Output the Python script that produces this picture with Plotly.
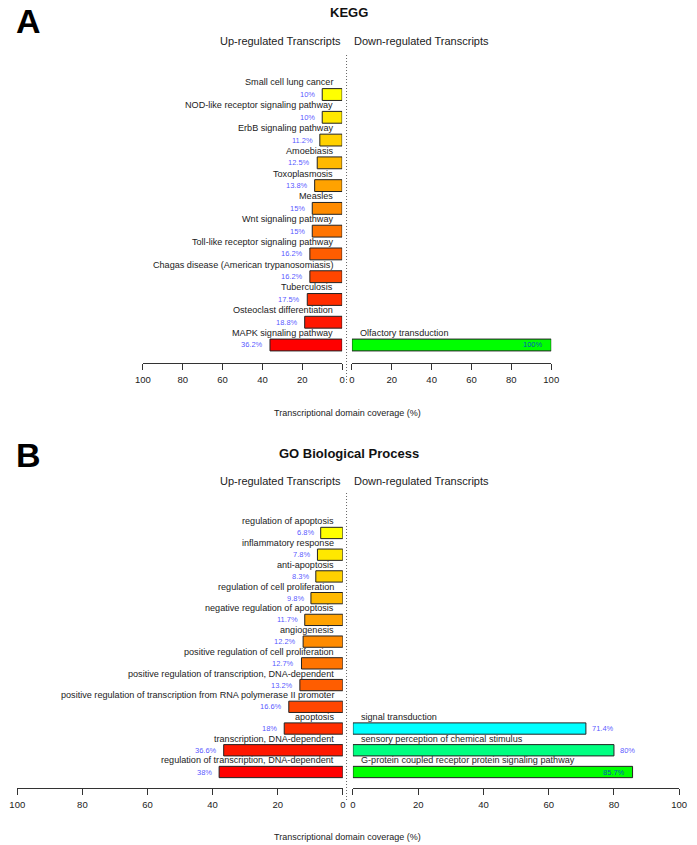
import plotly.graph_objects as go

W, H = 697, 845

# ---------------- data ----------------
kegg_up_terms = [
    "Small cell lung cancer",
    "NOD-like receptor signaling pathway",
    "ErbB signaling pathway",
    "Amoebiasis",
    "Toxoplasmosis",
    "Measles",
    "Wnt signaling pathway",
    "Toll-like receptor signaling pathway",
    "Chagas disease (American trypanosomiasis)",
    "Tuberculosis",
    "Osteoclast differentiation",
    "MAPK signaling pathway",
]
kegg_up_values = [10, 10, 11.2, 12.5, 13.8, 15, 15, 16.2, 16.2, 17.5, 18.8, 36.2]

kegg_down_terms = ["Olfactory transduction"]
kegg_down_values = [100]

go_up_terms = [
    "regulation of apoptosis",
    "inflammatory response",
    "anti-apoptosis",
    "regulation of cell proliferation",
    "negative regulation of apoptosis",
    "angiogenesis",
    "positive regulation of cell proliferation",
    "positive regulation of transcription, DNA-dependent",
    "positive regulation of transcription from RNA polymerase II promoter",
    "apoptosis",
    "transcription, DNA-dependent",
    "regulation of transcription, DNA-dependent",
]
go_up_values = [6.8, 7.8, 8.3, 9.8, 11.7, 12.2, 12.7, 13.2, 16.6, 18, 36.6, 38]

go_down_terms = [
    "signal transduction",
    "sensory perception of chemical stimulus",
    "G-protein coupled receptor protein signaling pathway",
]
go_down_values = [71.4, 80, 85.7]

tick_values = [0, 20, 40, 60, 80, 100]
x_title = "Transcriptional domain coverage (%)"
up_title = "Up-regulated Transcripts"
down_title = "Down-regulated Transcripts"

# ---------------- style helpers ----------------
FONT = "Liberation Sans, Arial, Helvetica, sans-serif"
PCT_COLOR = "rgba(0,0,255,0.7)"
TXT = "#222222"


def ramp(c1, c2, n):
    if n == 1:
        return ["rgb(%d,%d,%d)" % c1]
    out = []
    for i in range(n):
        t = i / (n - 1)
        out.append("rgb(%d,%d,%d)" % tuple(round(a + (b - a) * t) for a, b in zip(c1, c2)))
    return out


def fmt(v):
    return ("%g" % v) + "%"


def px_x(p):
    return p / W


def px_y(p):
    return 1 - p / H


fig = go.Figure()
annotations = []
shapes = []

panels = [
    dict(letter="A", title="KEGG",
         up_terms=kegg_up_terms, up_vals=kegg_up_values,
         dn_terms=kegg_down_terms, dn_vals=kegg_down_values,
         row0=345.0, step=22.77, axis_y=363, xl=(138, 342), xr=(352, 556),
         title_y=12.5, sub_y=40.5, letter_top=0, xtitle_y=413, dot=(55, 383),
         ax=("x", "x2"), yax="y"),
    dict(letter="B", title="GO Biological Process",
         up_terms=go_up_terms, up_vals=go_up_values,
         dn_terms=go_down_terms, dn_vals=go_down_values,
         row0=772.0, step=21.73, axis_y=788, xl=(9.5, 342.7), xr=(353, 687),
         title_y=453, sub_y=481, letter_top=434, xtitle_y=837, dot=(493, 800),
         ax=("x3", "x4"), yax="y2"),
]

layout_axes = {}
for k, p in enumerate(panels):
    n = len(p["up_terms"])
    rows_up = list(range(n))[::-1]
    m = len(p["dn_terms"])
    rows_dn = list(range(m))[::-1]
    up_colors = ramp((255, 0, 0), (255, 255, 0), n)[::-1]
    dn_colors = ramp((0, 255, 0), (0, 255, 255), m)[::-1]

    xa_l, xa_r = p["ax"]
    ya = p["yax"]

    fig.add_trace(go.Bar(
        x=p["up_vals"], y=rows_up, orientation="h", width=0.52,
        marker=dict(color=up_colors, line=dict(color="#222", width=1)),
        xaxis=xa_l, yaxis=ya, showlegend=False, hoverinfo="skip"))
    fig.add_trace(go.Bar(
        x=p["dn_vals"], y=rows_dn, orientation="h", width=0.52,
        marker=dict(color=dn_colors, line=dict(color="#222", width=1)),
        xaxis=xa_r, yaxis=ya, showlegend=False, hoverinfo="skip"))

    # y axis (rows)
    ybot = p["row0"] + p["step"]
    ytop = p["row0"] - 13 * p["step"]
    ykey = "yaxis" if ya == "y" else "yaxis2"
    layout_axes[ykey] = dict(domain=[px_y(ybot), px_y(ytop)], range=[-1, 13],
                             visible=False, fixedrange=True)

    common = dict(anchor="free", position=px_y(p["axis_y"]), showline=True,
                  linecolor="#333", linewidth=1, ticks="outside", ticklen=6,
                  tickcolor="#333", tickwidth=1, tickvals=tick_values,
                  tickfont=dict(family=FONT, size=9.5, color=TXT),
                  showgrid=False, zeroline=False, fixedrange=True,
                  ticklabelstandoff=2)
    kl = "xaxis" if xa_l == "x" else "xaxis" + xa_l[1:]
    kr = "xaxis" + xa_r[1:]
    layout_axes[kl] = dict(domain=[px_x(p["xl"][0]), px_x(p["xl"][1])],
                           range=[100, 0], **common)
    layout_axes[kr] = dict(domain=[px_x(p["xr"][0]), px_x(p["xr"][1])],
                           range=[0, 100], **common)

    # term labels and percentages
    for term, v, r in zip(p["up_terms"], p["up_vals"], rows_up):
        annotations.append(dict(xref=xa_l, yref=ya, x=0, y=r + 0.53, text=term,
                                xanchor="right", yanchor="middle", xshift=-7,
                                showarrow=False,
                                font=dict(family=FONT, size=9.1, color=TXT)))
        annotations.append(dict(xref=xa_l, yref=ya, x=v, y=r, text=fmt(v),
                                xanchor="right", yanchor="middle", xshift=-5,
                                showarrow=False,
                                font=dict(family=FONT, size=7.5, color=PCT_COLOR)))
    for term, v, r in zip(p["dn_terms"], p["dn_vals"], rows_dn):
        annotations.append(dict(xref=xa_r, yref=ya, x=0, y=r + 0.53, text=term,
                                xanchor="left", yanchor="middle", xshift=6,
                                showarrow=False,
                                font=dict(family=FONT, size=9.1, color=TXT)))
        inside = v > 82
        annotations.append(dict(xref=xa_r, yref=ya, x=v, y=r, text=fmt(v),
                                xanchor="right" if inside else "left",
                                yanchor="middle", xshift=-6 if inside else 4,
                                showarrow=False,
                                font=dict(family=FONT, size=7.5, color=PCT_COLOR)))

    # titles
    annotations.append(dict(xref="paper", yref="paper", x=px_x(6),
                            y=px_y(p["letter_top"]),
                            text="<b>%s</b>" % p["letter"], xanchor="left", yanchor="top",
                            showarrow=False, font=dict(family=FONT, size=34, color="#000")))
    annotations.append(dict(xref="paper", yref="paper", x=px_x(349), y=px_y(p["title_y"]),
                            text="<b>%s</b>" % p["title"], xanchor="center", yanchor="middle",
                            showarrow=False, font=dict(family=FONT, size=13, color="#111")))
    annotations.append(dict(xref="paper", yref="paper", x=px_x(343), y=px_y(p["sub_y"]),
                            text=up_title, xanchor="right", yanchor="middle",
                            showarrow=False, font=dict(family=FONT, size=11, color=TXT)))
    annotations.append(dict(xref="paper", yref="paper", x=px_x(352), y=px_y(p["sub_y"]),
                            text=down_title, xanchor="left", yanchor="middle",
                            showarrow=False, font=dict(family=FONT, size=11, color=TXT)))
    annotations.append(dict(xref="paper", yref="paper", x=px_x(347), y=px_y(p["xtitle_y"]),
                            text=x_title, xanchor="center", yanchor="middle",
                            showarrow=False, font=dict(family=FONT, size=9, color=TXT)))

    shapes.append(dict(type="line", xref="paper", yref="paper",
                       x0=px_x(346.5), x1=px_x(346.5),
                       y0=px_y(p["dot"][0]), y1=px_y(p["dot"][1]),
                       line=dict(color="#666", width=1, dash="1px,2px")))

fig.update_layout(
    width=W, height=H, margin=dict(l=0, r=0, t=0, b=0),
    paper_bgcolor="white", plot_bgcolor="white",
    annotations=annotations, shapes=shapes, barmode="overlay",
    **layout_axes,
)

# the page body has a default 8px margin; remove it so the figure fills the window
fig.write_html("out.html", config={"displayModeBar": False, "staticPlot": True},
               post_script="document.body.style.margin='0';document.body.style.overflow='hidden';")
